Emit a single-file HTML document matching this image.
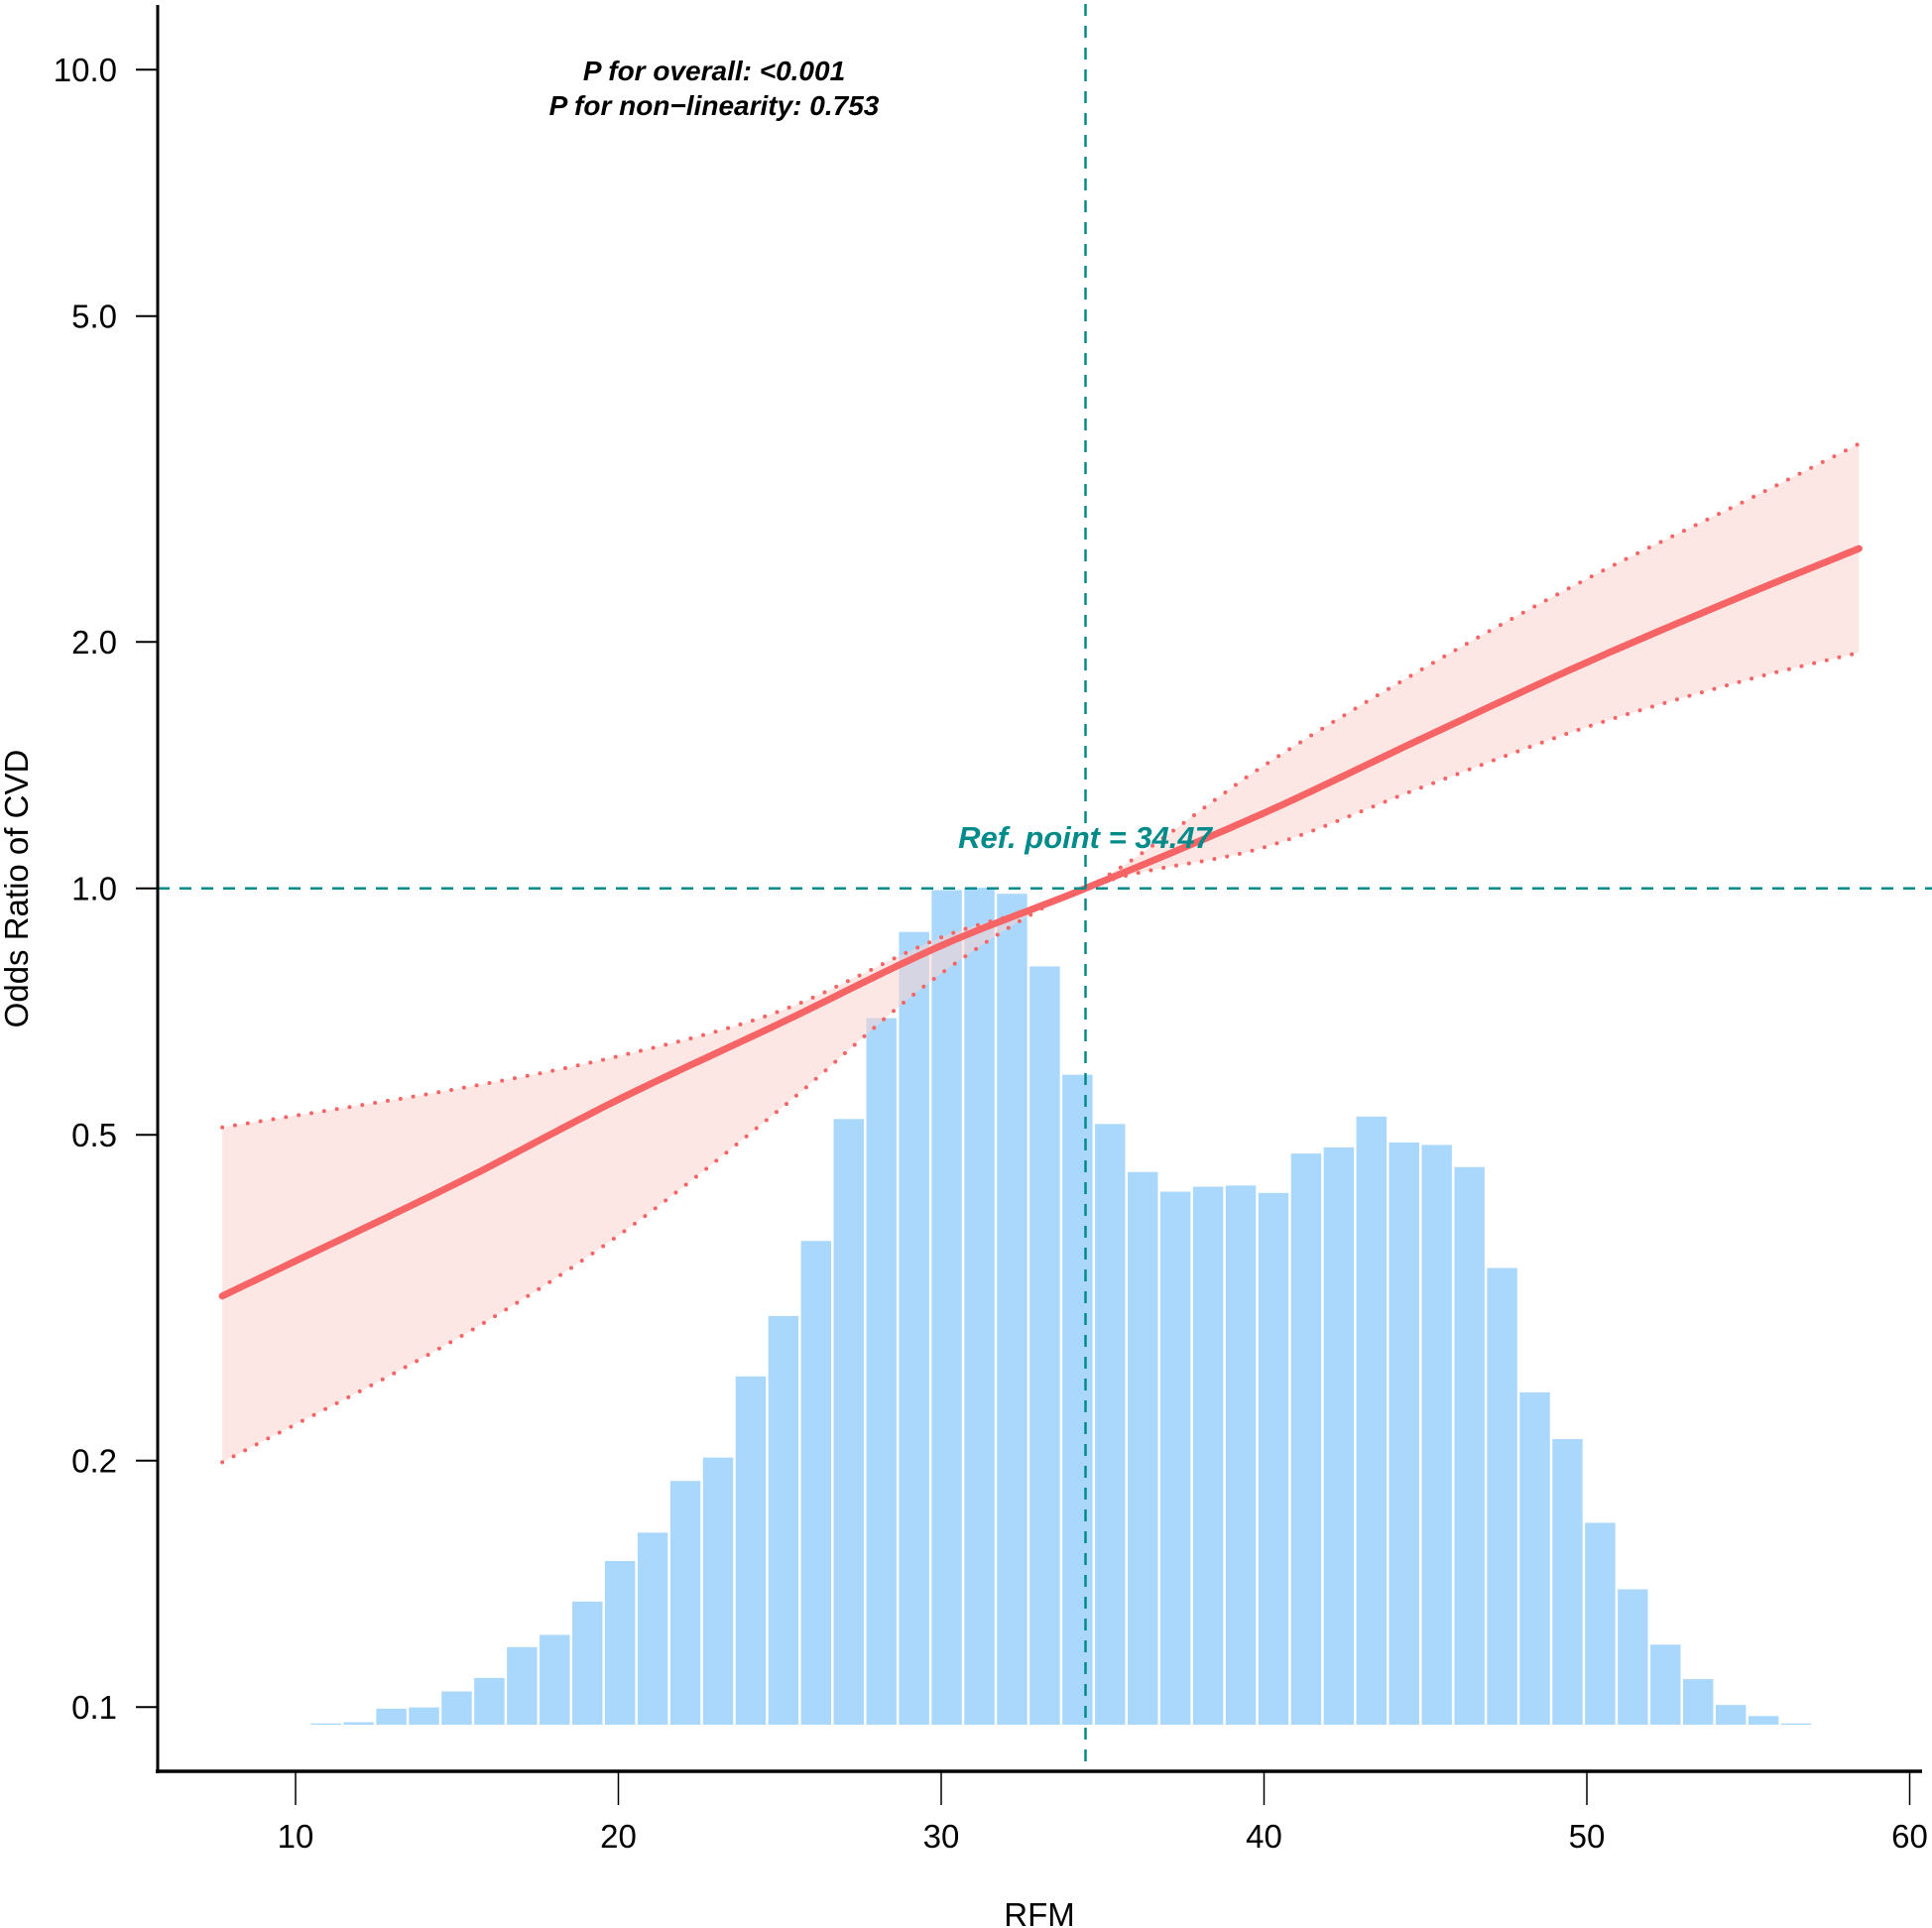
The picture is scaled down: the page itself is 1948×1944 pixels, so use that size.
<!DOCTYPE html>
<html><head><meta charset="utf-8"><style>
html,body{margin:0;padding:0;background:#fff;}
svg{display:block;font-family:"Liberation Sans Narrow","Liberation Sans",sans-serif;}
</style></head><body>
<svg id="chart" width="1948" height="1944" viewBox="0 0 1948 1944" xmlns="http://www.w3.org/2000/svg">
<g id="bars"></g>
<g id="band"></g>
<g id="refs"></g>
<g id="axes"></g>
<text x="720" y="81" text-anchor="middle" font-size="28" font-weight="bold" font-style="italic" fill="#000">P for overall: &lt;0.001</text>
<text x="720" y="116" text-anchor="middle" font-size="28" font-weight="bold" font-style="italic" fill="#000">P for non−linearity: 0.753</text>
<text x="1094" y="855" text-anchor="middle" font-size="31" font-weight="bold" font-style="italic" fill="#008B8B">Ref. point = 34.47</text>
<text x="1048" y="1942" text-anchor="middle" font-size="33" fill="#000">RFM</text>
<text x="28" y="896" text-anchor="middle" font-size="33" fill="#000" transform="rotate(-90 28 896)">Odds Ratio of CVD</text>
</svg>
<script>
const binStart = 10.476, binWidth = 1.012;
const binHeights = [1,2,13,14,27,38,63,73,100,133,156,198,217,283,332,393,492,574,644,678,680,675,616,528,488,449,433,437,438,432,464,469,494,473,471,453,371,270,232,164,110,65,37,16,7,1];
const curveX = [7.73,15,20,25,30,34.47,40,45,50,55,58.43];
const curveLog = [-0.498,-0.36,-0.258,-0.165,-0.07,0,0.092,0.185,0.276,0.36,0.415];
const upperLog = [-0.292,-0.245,-0.205,-0.15,-0.06,0,0.15,0.27,0.378,0.475,0.543];
const lowerLog = [-0.701,-0.55,-0.424,-0.27,-0.104,0,0.05,0.125,0.197,0.255,0.288];
const xTicks = [10,20,30,40,50,60];
const yTicks = [10,5,2,1,0.5,0.2,0.1];
const yTickLabels = ["10.0","5.0","2.0","1.0","0.5","0.2","0.1"];
const refX = 34.47, refY = 1;

const NS="http://www.w3.org/2000/svg";
const X = v => 298 + (v-10)*32.55;
const Y = v => 895.7 - Math.log10(v)*825.5;
const YL = l => 895.7 - l*825.5;
const barBase = 1739, barScale = 844/680;
function mk(tag, attrs, parent){const e=document.createElementNS(NS,tag);for(const k in attrs)e.setAttribute(k,attrs[k]);parent.appendChild(e);return e;}
// Catmull-Rom sampling through the data points
function samples(xs, ys){
  const pts=[];const n=xs.length;
  for(let i=0;i<n-1;i++){
    const x0=xs[Math.max(i-1,0)],y0=ys[Math.max(i-1,0)],x1=xs[i],y1=ys[i],x2=xs[i+1],y2=ys[i+1],x3=xs[Math.min(i+2,n-1)],y3=ys[Math.min(i+2,n-1)];
    const m1=(y2-y0)/(x2-x0||1), m2=(y3-y1)/(x3-x1||1);
    const h=x2-x1;
    for(let s=0;s<20;s++){
      const t=s/20,t2=t*t,t3=t2*t;
      const y=(2*t3-3*t2+1)*y1+(t3-2*t2+t)*h*m1+(-2*t3+3*t2)*y2+(t3-t2)*h*m2;
      pts.push([X(x1+t*h),YL(y)]);
    }
  }
  pts.push([X(xs[n-1]),YL(ys[n-1])]);
  return pts;
}
const gb=document.getElementById('bars');
binHeights.forEach((h,i)=>{
  const x0=X(binStart+i*binWidth), x1=X(binStart+(i+1)*binWidth);
  const hh=h*barScale;
  const r=mk('rect',{x:x0,y:barBase-hh,width:x1-x0-2.5,height:hh,fill:'#AAD7FC'},gb);
  
  
});
const gband=document.getElementById('band');
const upPts=samples(curveX,upperLog), loPts=samples(curveX,lowerLog), cPts=samples(curveX,curveLog);
const toD=p=>'M'+p.map(q=>q[0].toFixed(1)+','+q[1].toFixed(1)).join('L');
const d=toD(upPts)+'L'+loPts.slice().reverse().map(q=>q[0].toFixed(1)+','+q[1].toFixed(1)).join('L')+'Z';
const poly=mk('path',{d:d,fill:'#FAD3D0','fill-opacity':0.55},gband);


const up=mk('path',{d:toD(upPts),fill:'none',stroke:'#F66466','stroke-width':4,'stroke-dasharray':'0 13','stroke-linecap':'round'},gband);


const lo=mk('path',{d:toD(loPts),fill:'none',stroke:'#F66466','stroke-width':4,'stroke-dasharray':'0 13','stroke-linecap':'round'},gband);


const ln=mk('path',{d:toD(cPts),fill:'none',stroke:'#F66466','stroke-width':7,'stroke-linecap':'round','stroke-linejoin':'round'},gband);


const gr=document.getElementById('refs');
const vl=mk('line',{x1:X(refX),x2:X(refX),y1:4,y2:1786,stroke:'#008B8B','stroke-width':2.5,'stroke-dasharray':'12 10'},gr);


const hl=mk('line',{x1:159,x2:1948,y1:Y(refY),y2:Y(refY),stroke:'#008B8B','stroke-width':2.5,'stroke-dasharray':'12 10'},gr);


const ga=document.getElementById('axes');
const ya=mk('line',{x1:159,x2:159,y1:5,y2:1788,stroke:'#000','stroke-width':3},ga);


const xa=mk('line',{x1:157,x2:1938,y1:1786,y2:1786,stroke:'#000','stroke-width':3.5},ga);


xTicks.forEach(v=>{
  const t=mk('line',{x1:X(v),x2:X(v),y1:1786,y2:1820,stroke:'#000','stroke-width':1.5},ga);
  
  
  const l=mk('text',{x:X(v),y:1863,'text-anchor':'middle','font-size':33,fill:'#000'},ga);
  
  
  l.textContent=v;
});
yTicks.forEach((v,i)=>{
  const t=mk('line',{x1:137,x2:159,y1:Y(v),y2:Y(v),stroke:'#000','stroke-width':2},ga);
  
  
  const l=mk('text',{x:118,y:Y(v)+12,'text-anchor':'end','font-size':33,fill:'#000'},ga);
  
  
  l.textContent=yTickLabels[i];
});
</script>
</body></html>
